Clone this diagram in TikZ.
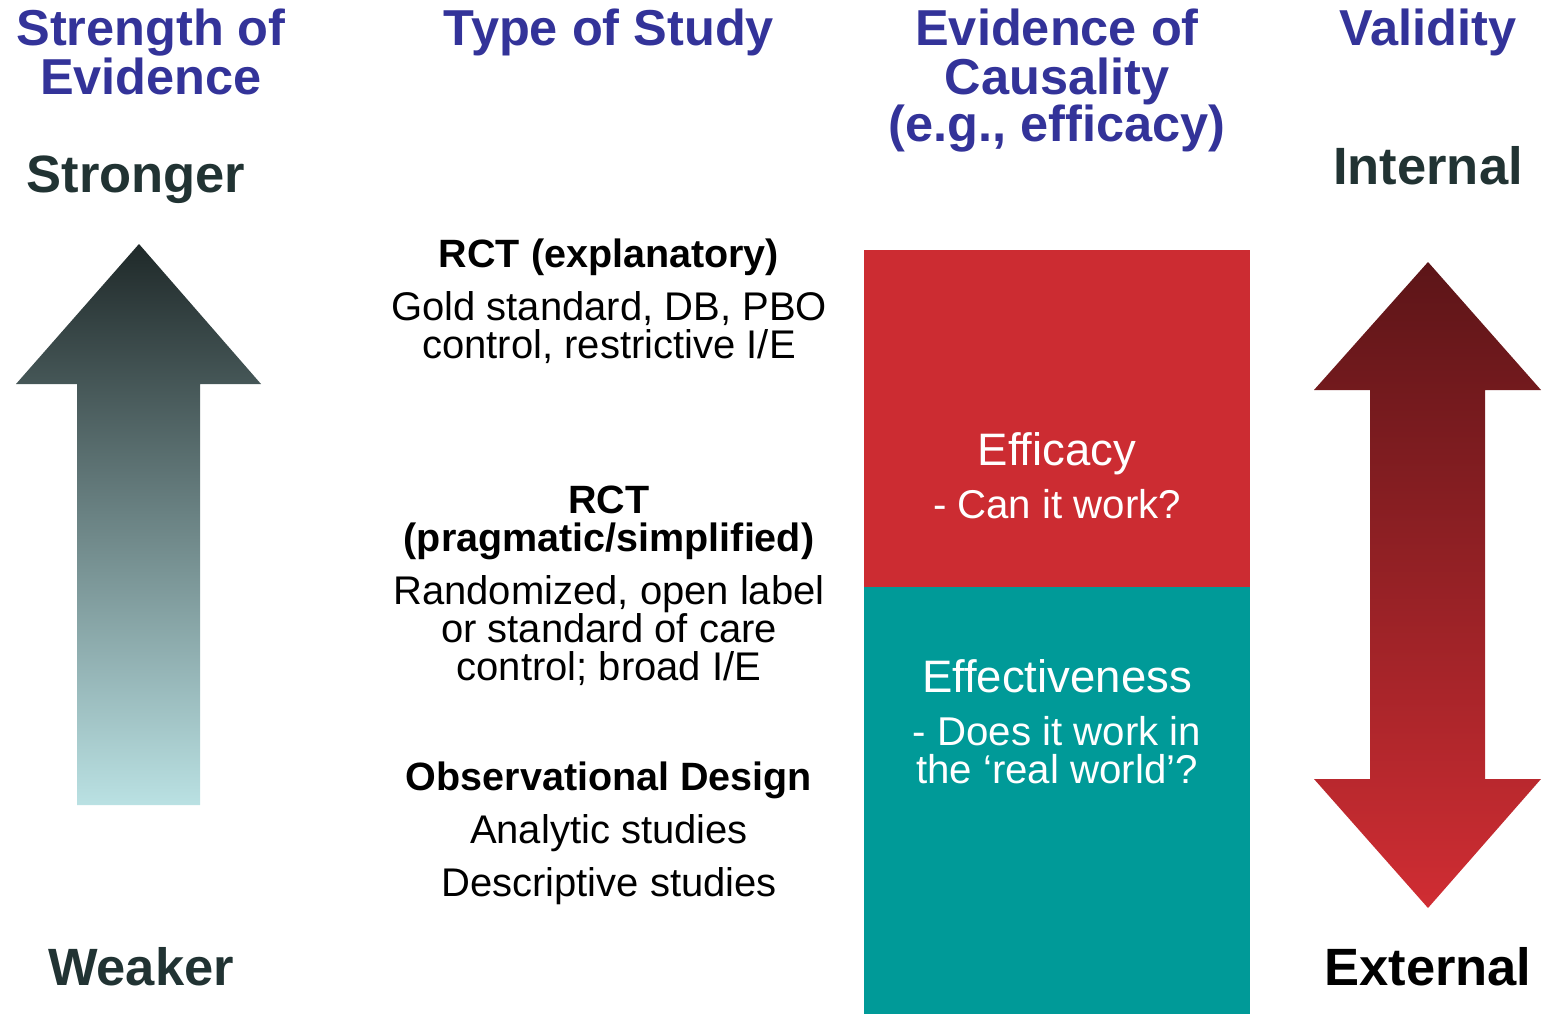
\documentclass[tikz,border=0pt]{standalone}
\usepackage{fontspec}
\setmainfont{Liberation Sans}
\definecolor{headblue}{HTML}{333399}
\definecolor{slate}{HTML}{213333}
\definecolor{effred}{HTML}{CC2C32}
\definecolor{effteal}{HTML}{009A98}
\definecolor{arrdark}{HTML}{1F2929}
\definecolor{arrlight}{HTML}{BAE1E3}
\definecolor{valdark}{HTML}{5C1518}
\definecolor{valred}{HTML}{D02D33}
\begin{document}
\begin{tikzpicture}[x=1pt,y=-1pt,
  txt/.style={anchor=base,inner sep=0pt},
  header/.style={txt,text=headblue,font=\fontsize{50.5}{50.5}\selectfont\bfseries},
  pole/.style={txt,text=slate,font=\fontsize{52.5}{52.5}\selectfont\bfseries},
  studyhead/.style={txt,font=\fontsize{39.5}{39.5}\selectfont\bfseries},
  studytext/.style={txt,font=\fontsize{40}{40}\selectfont},
  boxhead/.style={txt,text=white,font=\fontsize{45.5}{45.5}\selectfont},
  boxtext/.style={txt,text=white,font=\fontsize{40.2}{40.2}\selectfont}]
\useasboundingbox (0,0) rectangle (1548,1014);

% column headers
\node[header] (h1a) at (151,46) {Strength of};
\node[header] (h1b) at (151,95) {Evidence};
\node[header] (h2) at (609,46) {Type of Study};
\node[header] (h3a) at (1057,46) {Evidence of};
\node[header] (h3b) at (1057,95) {Causality};
\node[header] (h3c) at (1057,142) {(e.g., efficacy)};
\node[header] (h4) at (1428,46) {Validity};

% strength of evidence arrow
\shade[top color=arrdark,bottom color=arrlight]
  (139,244) -- (261,384) -- (200,384) -- (200,805) -- (77,805) -- (77,384) -- (16,384) -- cycle;
\node[pole] (strong) at (136,193) {Stronger};
\node[pole] (weak) at (141,985) {Weaker};

% study types
\node[studyhead] (rcte) at (609,267) {RCT (explanatory)};
\node[studytext] (rcte1) at (609,320) {Gold standard, DB, PBO};
\node[studytext] (rcte2) at (609,358) {control, restrictive I/E};
\node[studyhead] (rctp1) at (609,513) {RCT};
\node[studyhead] (rctp2) at (609,551) {(pragmatic/simplified)};
\node[studytext] (rctp3) at (609,604) {Randomized, open label};
\node[studytext] (rctp4) at (609,642) {or standard of care};
\node[studytext] (rctp5) at (609,680) {control; broad I/E};
\node[studyhead] (obs) at (609,790) {Observational Design};
\node[studytext] (obs1) at (609,843) {Analytic studies};
\node[studytext] (obs2) at (609,896) {Descriptive studies};

% efficacy / effectiveness blocks
\fill[effred] (864,250) rectangle (1250,588);
\fill[effteal] (864,587) rectangle (1250,1014);
\node[boxhead] (eff) at (1057,465) {Efficacy};
\node[boxtext] (eff1) at (1057,518) {- Can it work?};
\node[boxhead] (effv) at (1057,692) {Effectiveness};
\node[boxtext] (effv1) at (1057,745) {- Does it work in};
\node[boxtext] (effv2) at (1057,783) {the ‘real world’?};

% validity double arrow
\shade[top color=valdark,bottom color=valred]
  (1428,262) -- (1541,390) -- (1485,390) -- (1485,779) -- (1541,779) -- (1428,908)
  -- (1314,779) -- (1370,779) -- (1370,390) -- (1314,390) -- cycle;
\node[pole] (int) at (1428,185) {Internal};
\node[pole,text=black] (ext) at (1428,985) {External};
\end{tikzpicture}
\end{document}
